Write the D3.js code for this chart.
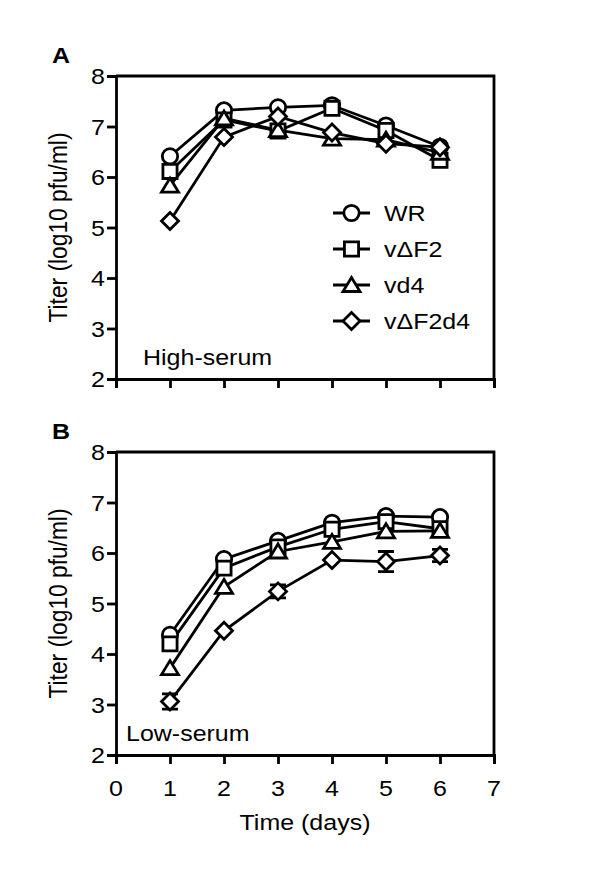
<!DOCTYPE html>
<html>
<head>
<meta charset="utf-8">
<script src="https://cdn.jsdelivr.net/npm/d3@7"></script>
<style>
  body { margin: 0; background: #fff; }
  svg text { font-family: "Liberation Sans", Arial, sans-serif; fill: #000; }
</style>
</head>
<body>
<svg id="chart" width="600" height="878"></svg>
<script>
const days = [1, 2, 3, 4, 5, 6];
const xTicks = [0, 1, 2, 3, 4, 5, 6, 7];
const yTicks = [2, 3, 4, 5, 6, 7, 8];
const seriesNames = ['WR', 'v\u0394F2', 'vd4', 'v\u0394F2d4'];
const shapes = ['circle', 'square', 'triangle', 'diamond'];

// panel A, high serum
const highWR = [6.41, 7.32, 7.38, 7.42, 7.02, 6.60];
const highF2 = [6.11, 7.13, 6.91, 7.36, 6.92, 6.33];
const highD4 = [5.83, 7.16, 6.93, 6.76, 6.74, 6.48];
const highF2D4 = [5.13, 6.79, 7.20, 6.88, 6.66, 6.59];
const highD4Err = [0, 0, 0, 0.12, 0, 0];

// panel B, low serum
const lowWR = [4.38, 5.88, 6.24, 6.60, 6.73, 6.71];
const lowF2 = [4.20, 5.70, 6.12, 6.47, 6.62, 6.48];
const lowD4 = [3.72, 5.33, 6.03, 6.22, 6.43, 6.44];
const lowF2D4 = [3.06, 4.46, 5.24, 5.86, 5.83, 5.95];
const lowF2D4Err = [0.15, 0, 0.13, 0, 0.2, 0.12];

const zeros = days.map(() => 0);

const FONT = 25;
const SQUASH = 0.88; // the figure's text is a bit flattened vertically
const LW = 2.8;

const svg = d3.select('#chart');

// text helper, draws at (x,y) baseline with the flattened look
function label(g, x, y, str, anchor, bold) {
  return g.append('text')
    .attr('transform', `translate(${x},${y})scale(1,${SQUASH})`)
    .attr('text-anchor', anchor || 'start')
    .attr('font-size', FONT)
    .attr('font-weight', bold ? 'bold' : 'normal')
    .text(str);
}

function markerPath(shape) {
  if (shape === 'circle') return d3.symbol(d3.symbolCircle, 185)();
  if (shape === 'square') return d3.symbol(d3.symbolSquare, 200)();
  if (shape === 'triangle') return 'M0,-7.5L8.5,6.5L-8.5,6.5Z';
  return 'M0,-8.5L8.5,0L0,8.5L-8.5,0Z';
}

function drawPanel(opts) {
  const x = d3.scaleLinear().domain([0, 7]).range([116, 494]);
  const y = d3.scaleLinear().domain([2, 8]).range([opts.bottom, opts.bottom - 303]);
  const g = svg.append('g');

  // frame top + right
  g.append('path')
    .attr('d', `M${x(0)},${y(8)}H${x(7)}V${y(2)}`)
    .attr('fill', 'none').attr('stroke', '#000').attr('stroke-width', LW);

  const yAxis = g.append('g')
    .attr('transform', `translate(${x(0)},0)`)
    .call(d3.axisLeft(y).tickValues(yTicks).tickSize(9).tickFormat(''));
  const xAxis = g.append('g')
    .attr('transform', `translate(0,${y(2)})`)
    .call(d3.axisBottom(x).tickValues(xTicks).tickSize(9).tickFormat(''));
  [yAxis, xAxis].forEach(a => {
    a.select('.domain').attr('stroke-width', LW);
    a.selectAll('.tick line').attr('stroke-width', LW);
  });

  yTicks.forEach(t => label(g, 105, y(t) + 8, t, 'end'));
  if (opts.showX) xTicks.forEach(t => label(g, x(t), opts.bottom + 41, t, 'middle'));

  g.append('text')
    .attr('transform', `translate(67,${(y(2) + y(8)) / 2})scale(1,0.91)rotate(-90)`)
    .attr('text-anchor', 'middle')
    .attr('font-size', FONT)
    .text('Titer (log10 pfu/ml)');

  label(g, 52, opts.bottom - 316, opts.label, 'start', true);
  label(g, opts.condX, opts.bottom - 14, opts.condition);

  const line = d3.line().x((d, i) => x(days[i])).y(d => y(d));

  opts.series.forEach(s => {
    g.append('path').datum(s)
      .attr('d', line)
      .attr('fill', 'none').attr('stroke', '#000').attr('stroke-width', LW);
  });

  opts.errors.forEach((errs, k) => {
    errs.forEach((e, i) => {
      if (!e) return;
      const v = opts.series[k][i];
      const cx = x(days[i]);
      g.append('path')
        .attr('d', `M${cx},${y(v - e)}V${y(v + e)}M${cx - 8},${y(v - e)}H${cx + 8}M${cx - 8},${y(v + e)}H${cx + 8}`)
        .attr('fill', 'none').attr('stroke', '#000').attr('stroke-width', LW);
    });
  });

  opts.series.forEach((s, k) => {
    g.selectAll(null).data(s).join('path')
      .attr('transform', (d, i) => `translate(${x(days[i])},${y(d)})`)
      .attr('d', markerPath(shapes[k]))
      .attr('fill', '#fff').attr('stroke', '#000').attr('stroke-width', LW);
  });

  if (opts.showX) label(g, (x(0) + x(7)) / 2, opts.bottom + 75, 'Time (days)', 'middle');

  if (opts.legend) {
    seriesNames.forEach((name, k) => {
      const ly = 213 + k * 36;
      g.append('line')
        .attr('x1', 333).attr('x2', 370).attr('y1', ly).attr('y2', ly)
        .attr('stroke', '#000').attr('stroke-width', LW);
      g.append('path')
        .attr('transform', `translate(351.5,${ly})`)
        .attr('d', markerPath(shapes[k]))
        .attr('fill', '#fff').attr('stroke', '#000').attr('stroke-width', LW);
      label(g, 384, ly + 8, name);
    });
  }
}

drawPanel({
  bottom: 379, label: 'A', condition: 'High-serum', condX: 143, showX: false, legend: true,
  series: [highWR, highF2, highD4, highF2D4],
  errors: [zeros, zeros, highD4Err, zeros]
});

drawPanel({
  bottom: 755, label: 'B', condition: 'Low-serum', condX: 126, showX: true, legend: false,
  series: [lowWR, lowF2, lowD4, lowF2D4],
  errors: [zeros, zeros, zeros, lowF2D4Err]
});
</script>
</body>
</html>
